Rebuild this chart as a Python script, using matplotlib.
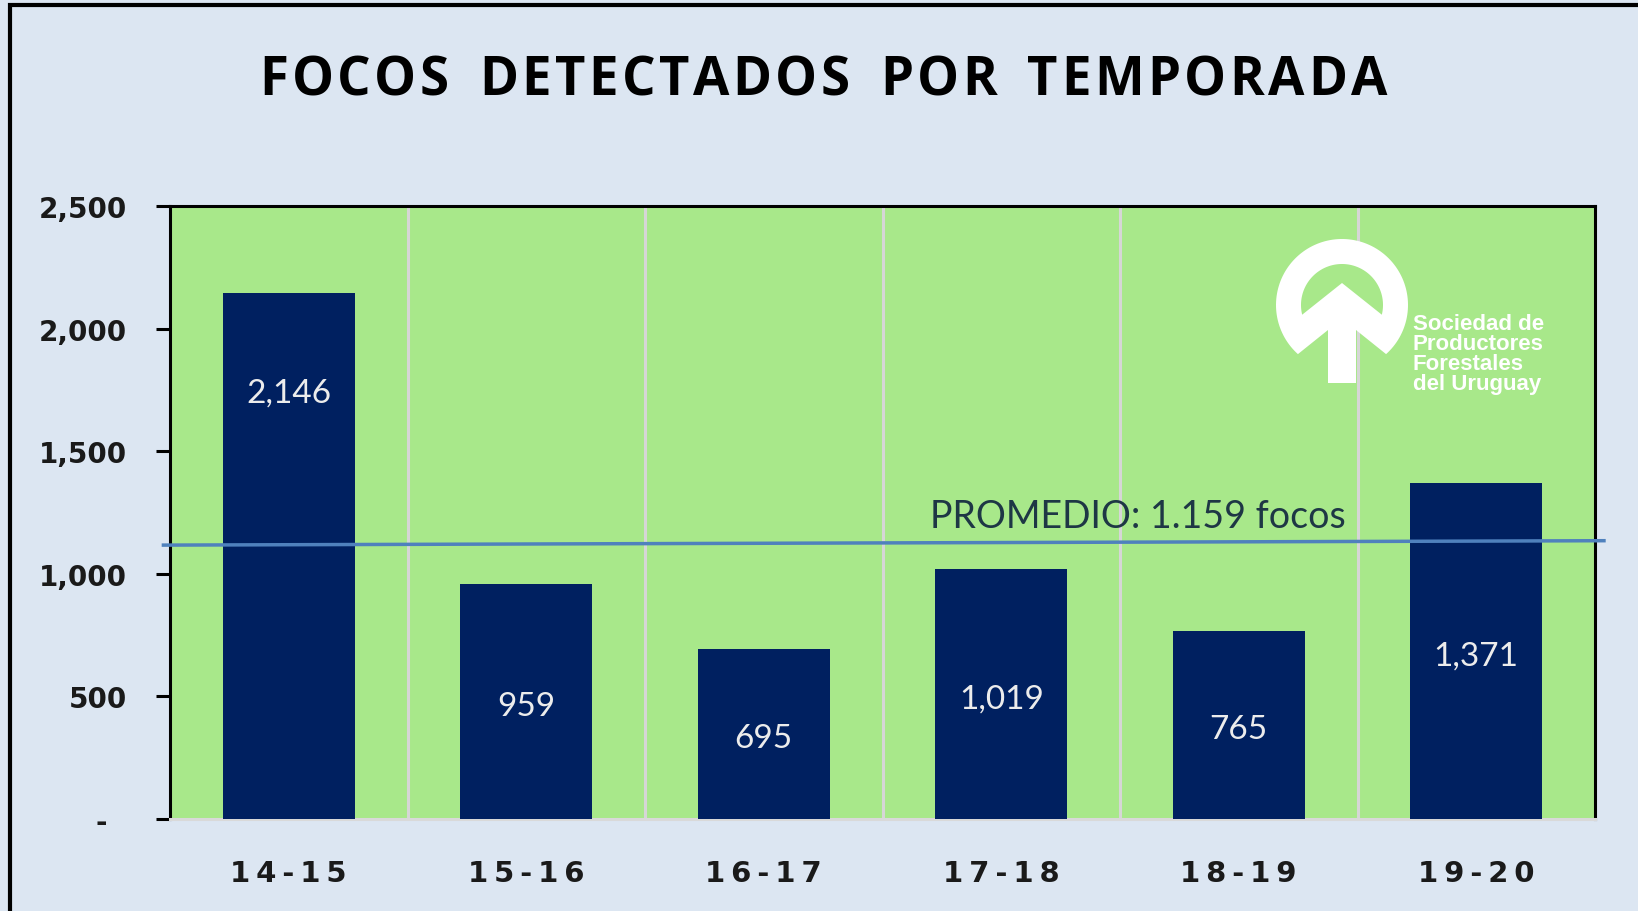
import matplotlib
matplotlib.use("Agg")
import matplotlib.pyplot as plt
from matplotlib.patches import Polygon, Rectangle
import numpy as np

# ---------------- data ----------------
seasons = ["14-15", "15-16", "16-17", "17-18", "18-19", "19-20"]
focos = [2146, 959, 695, 1019, 765, 1371]
value_labels = ["2,146", "959", "695", "1,019", "765", "1,371"]
promedio_line = [1117, 1135]          # average line as drawn (slightly tilted in the original)
promedio_text = "PROMEDIO: 1.159 focos"
yticks = [0, 500, 1000, 1500, 2000, 2500]
ytick_labels = ["-  ", "500", "1,000", "1,500", "2,000", "2,500"]
title = "FOCOS DETECTADOS POR TEMPORADA"
logo_lines = ["Sociedad de", "Productores", "Forestales", "del Uruguay"]

# ---------------- style ----------------
BG = "#dce6f2"
GREEN = "#a8e88a"
NAVY = "#002060"
W, H = 1638, 912
label_frac = [0.81, 0.482, 0.4755, 0.483, 0.478, 0.4876]


def spaced(s, sep="\u2009"):
    words = s.split(" ")
    return "  ".join(sep.join(list(w)) for w in words)


fig = plt.figure(figsize=(W / 100, H / 100), dpi=100)
fig.patch.set_facecolor(BG)

ax = fig.add_axes([170 / W, 1 - 820 / H, (1595 - 170) / W, (820 - 207) / H])
ax.set_facecolor(GREEN)
x = np.arange(len(seasons))
ax.bar(x, focos, width=0.555, color=NAVY, zorder=3)
ax.set_xlim(-0.5, len(seasons) - 0.5)
ax.set_ylim(0, 2500)

# vertical category separators
ax.set_xticks(x[:-1] + 0.5, minor=True)
ax.grid(which="minor", axis="x", color="#d6d6d6", lw=2.2, zorder=1)
ax.tick_params(axis="x", which="minor", length=0)

ax.set_xticks(x)
ax.set_xticklabels([spaced(s) for s in seasons], fontsize=21, fontweight="bold",
                   color="#1a1a1a", family=["DejaVu Sans"])
ax.tick_params(axis="x", which="major", length=0, pad=29)

ax.set_yticks(yticks)
ax.set_yticklabels(ytick_labels, fontsize=20, fontweight="bold", color="#1a1a1a")
ax.tick_params(axis="y", length=10, width=2.2, color="black", pad=21)

for side in ["left", "top", "right"]:
    ax.spines[side].set_color("black")
    ax.spines[side].set_linewidth(2.2)
ax.spines["bottom"].set_color("#d9d9d9")
ax.spines["bottom"].set_linewidth(2.2)

# value labels
for xi, v, lab, fr in zip(x, focos, value_labels, label_frac):
    ax.text(xi, v * fr, lab, ha="center", va="center", color="#ececec",
            fontsize=24, family=["Lato", "DejaVu Sans"], zorder=5)

# average line
x0, x1 = ax.get_xlim()
ax.plot([x0 - 0.035, x1 + 0.045], promedio_line, color="#4f81bd", lw=2.5,
        clip_on=False, zorder=4, solid_capstyle="butt")
ax.text(2.70, 1235, promedio_text, ha="left", va="center", fontsize=27,
        color="#1e3745", family=["Lato", "DejaVu Sans"], zorder=5)

# title with letter tracking
renderer = fig.canvas.get_renderer()
tkw = dict(fontsize=38, fontweight="bold", color="black", family=["Open Sans", "DejaVu Sans"])
target_w, word_gap, title_cx, title_cy = 1128, 30, 823, 81
glyphs = []
for ch in title:
    if ch == " ":
        glyphs.append((ch, None))
        continue
    t = fig.text(0, 0, ch, **tkw)
    w = t.get_window_extent(renderer).width
    t.remove()
    glyphs.append((ch, w))
letters_w = sum(w for _, w in glyphs if w is not None)
n_words = title.count(" ")
n_letter_gaps = sum(1 for i in range(len(title) - 1) if title[i] != " " and title[i + 1] != " ")
track = (target_w - letters_w - n_words * word_gap) / n_letter_gaps
xpos = title_cx - target_w / 2
prev_space = True
for ch, w in glyphs:
    if w is None:
        xpos += word_gap
        prev_space = True
        continue
    if not prev_space:
        xpos += track
    fig.text(xpos / W, 1 - title_cy / H, ch, ha="left", va="center", **tkw)
    xpos += w
    prev_space = False

# overlay in pixel coordinates for frame + logo
ov = fig.add_axes([0, 0, 1, 1])
ov.set_xlim(0, W)
ov.set_ylim(0, H)
ov.axis("off")
ov.patch.set_alpha(0)
ov.set_zorder(10)

ov.add_patch(Rectangle((9.5, -20), 3000, H - 5.5 + 20, fill=False,
                       edgecolor="black", lw=3))

cx, cy, R, r = 1342, H - 306, 66, 41
# white outer shape (ring + arrow)
th = np.radians(np.linspace(228.1, -48.1, 120))
outer = [(cx + R * np.cos(t), cy + R * np.sin(t)) for t in th]
outer += [(cx + 14, cy - 25), (cx + 14, cy - 78), (cx - 14, cy - 78), (cx - 14, cy - 25)]
ov.add_patch(Polygon(outer, closed=True, facecolor="white", edgecolor="none"))
# inner green cut-out above the arrow head
ti = np.radians(np.linspace(193.7, -13.7, 100))
inner = [(cx + r * np.cos(t), cy + r * np.sin(t)) for t in ti]
inner += [(cx, cy + 22)]
ov.add_patch(Polygon(inner, closed=True, facecolor=GREEN, edgecolor="none"))

for i, line in enumerate(logo_lines):
    ov.text(1413, H - 330 - 20 * i, line, ha="left", va="baseline", color="white",
            fontsize=16, fontweight="heavy",
            family=["Liberation Sans Narrow", "Liberation Sans", "DejaVu Sans"])

fig.savefig("out.png", dpi=100, facecolor=BG)
